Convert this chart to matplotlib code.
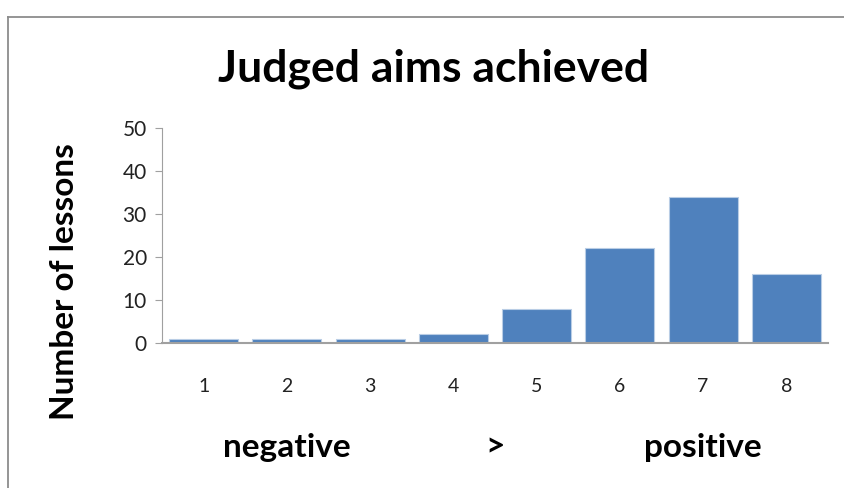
import matplotlib.pyplot as plt
from matplotlib.lines import Line2D
from matplotlib.transforms import blended_transform_factory

plt.rcParams['font.family'] = ['Lato', 'DejaVu Sans']

categories = [1, 2, 3, 4, 5, 6, 7, 8]
lessons = [1, 1, 1, 2, 8, 22, 34, 16]
scale_words = ['negative', '>', 'positive']
scale_pos = [2, 4.5, 7]

fig = plt.figure(figsize=(8.44, 4.88), dpi=100)
ax = fig.add_axes([0.192, 0.297, 0.789, 0.441])

# chart frame: only top and left edges are visible
fx, fy = 7.5 / 844, 1 - 16.5 / 488
fig.lines.append(Line2D([fx, 1.1], [fy, fy], transform=fig.transFigure,
                        color='#8c8c8c', linewidth=1.3))
fig.lines.append(Line2D([fx, fx], [-0.1, fy], transform=fig.transFigure,
                        color='#8c8c8c', linewidth=1.3))

ax.bar(categories, lessons, width=0.83, color='#4F81BD',
       edgecolor='#B9CDE5', linewidth=0.8, zorder=2)

ax.set_xlim(0.5, 8.5)
ax.set_ylim(0, 50)
ax.set_yticks([0, 10, 20, 30, 40, 50])
ax.set_xticks(categories)
ax.tick_params(axis='y', length=5, color='#a0a0a0', labelsize=15,
               labelcolor='#222222', pad=6)
ax.tick_params(axis='x', length=0, labelsize=14, labelcolor='#222222', pad=25)

for s in ['top', 'right']:
    ax.spines[s].set_visible(False)
ax.spines['left'].set_color('#a0a0a0')
ax.spines['bottom'].set_color('#a0a0a0')
ax.spines['bottom'].set_linewidth(1.5)

ax.set_ylabel('Number of lessons', fontsize=24, fontweight='bold')
ax.yaxis.set_label_coords(-0.125, 0.285)

fig.text(0.514, 0.86, 'Judged aims achieved', ha='center', va='center',
         fontsize=32, fontweight='bold')

trans = blended_transform_factory(ax.transData, fig.transFigure)
for word, x in zip(scale_words, scale_pos):
    ax.text(x, 1 - 447 / 488, word, transform=trans, ha='center',
            va='center', fontsize=24, fontweight='bold')

fig.savefig('out.png', dpi=100)
